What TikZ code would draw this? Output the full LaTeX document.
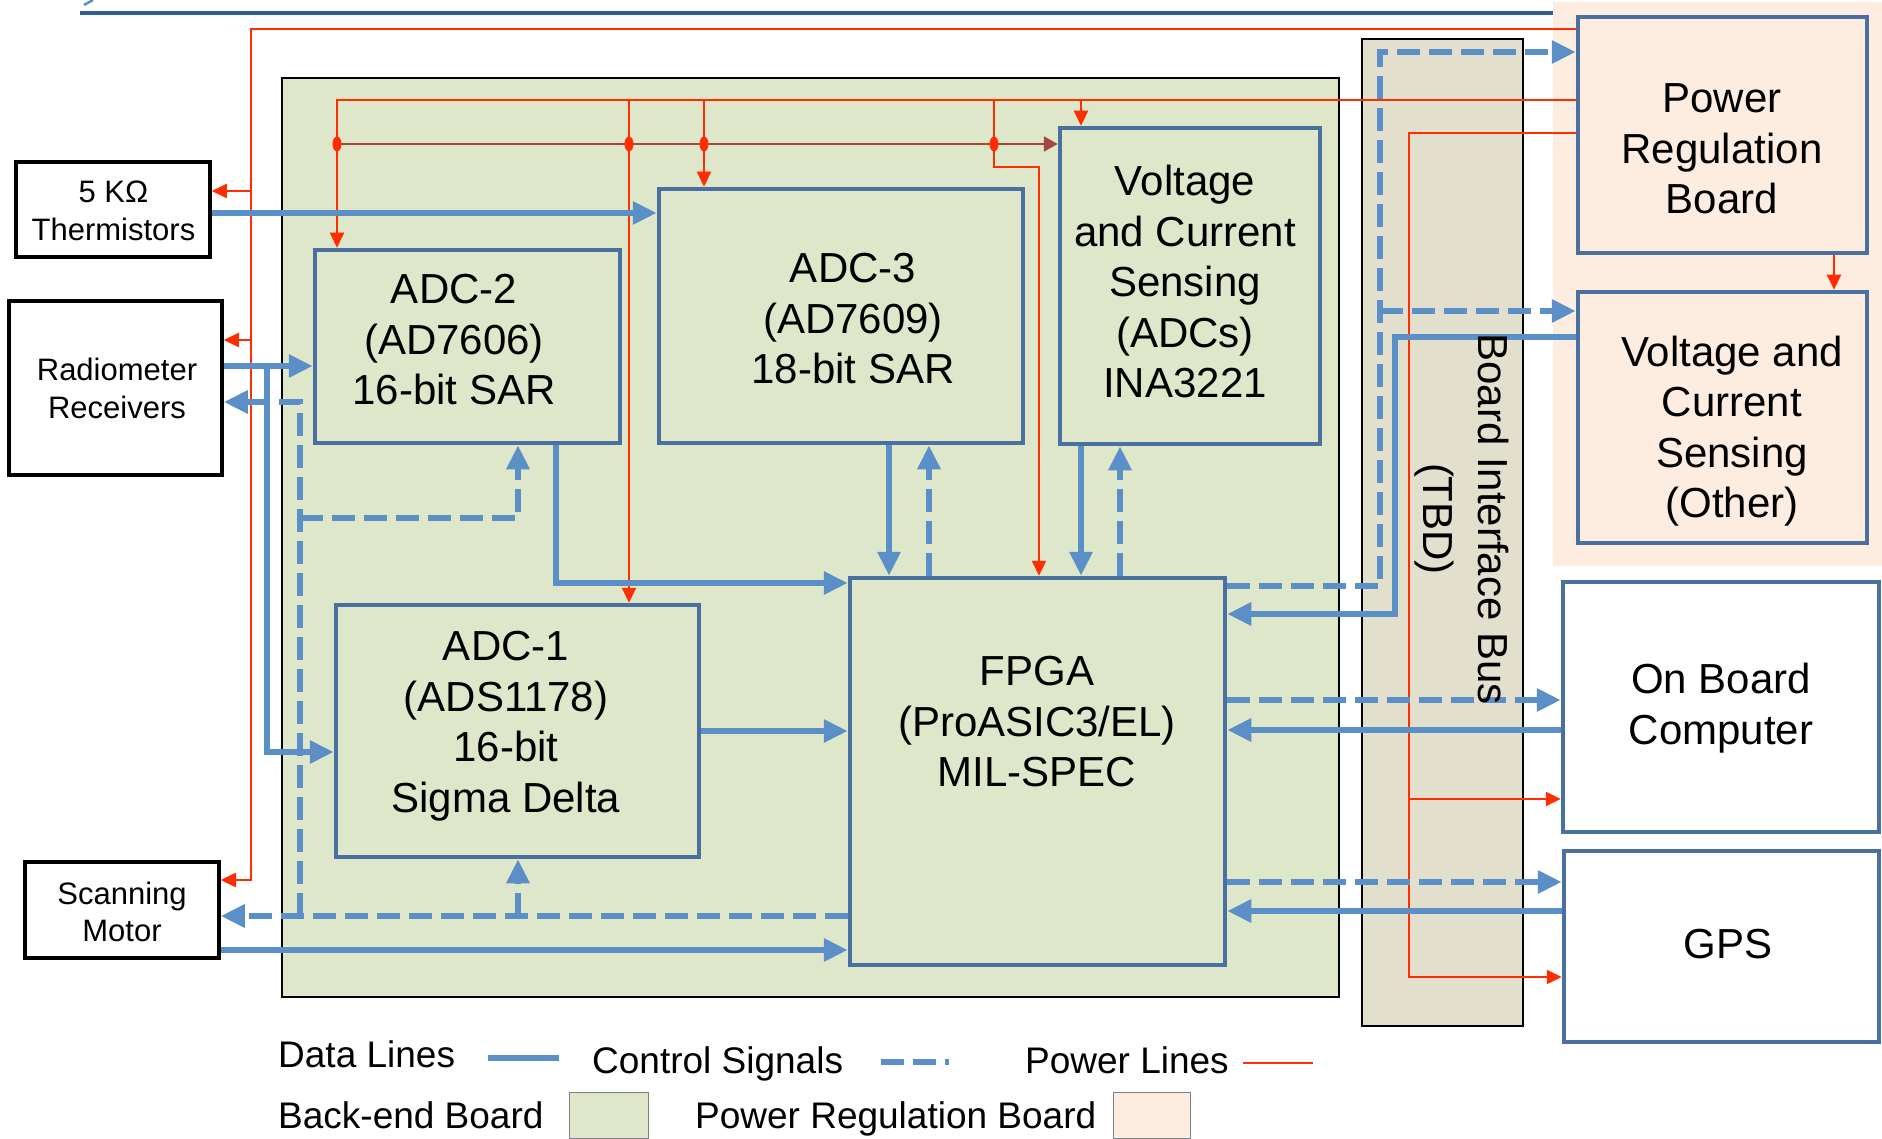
\documentclass[tikz,border=0pt]{standalone}
\usepackage{fontspec}
\setmainfont{Liberation Sans}
\usetikzlibrary{arrows.meta,shapes.geometric}
\definecolor{datab}{HTML}{5B8FC8}
\definecolor{boxb}{HTML}{4A70A0}
\definecolor{greenf}{HTML}{DEE7C9}
\definecolor{busf}{HTML}{E2DFCC}
\definecolor{peachf}{HTML}{FDECE0}
\definecolor{pwr}{HTML}{FF2D00}
\definecolor{brownl}{HTML}{A5463F}
\definecolor{topb}{HTML}{2F5E98}
\begin{document}
\begin{tikzpicture}[x=1pt,y=-1pt,
  blkbox/.style={draw=boxb, line width=4.5pt, rectangle, inner sep=0pt},
  extbox/.style={draw=black, line width=3.5pt, fill=white, rectangle, inner sep=0pt},
  bigtxt/.style={font=\fontsize{42}{50.5}\selectfont, align=center, inner sep=0pt},
  smalltxt/.style={font=\fontsize{31}{37.5}\selectfont, align=center, inner sep=0pt},
  legtxt/.style={font=\fontsize{37}{40}\selectfont, anchor=base west, inner sep=0pt},
  dataln/.style={draw=datab, line width=6pt},
  ctrlln/.style={draw=datab, line width=6pt, dash pattern=on 23pt off 9pt},
  datarrow/.style={-{Triangle[length=24pt,width=22pt]}},
  pwrln/.style={draw=pwr, line width=2pt},
  parrow/.style={-{Triangle[length=15pt,width=14pt]}},
  pdot/.style={ellipse, fill=pwr, minimum width=9pt, minimum height=15pt, inner sep=0pt},
]
\fill[white] (0,0) rectangle (1882,1139);
\useasboundingbox (0,0) rectangle (1882,1139);

% slide remnants at top
\draw[topb, line width=4pt] (80,12.7) -- (1553,12.7);
\draw[datab, line width=2.5pt] (84,5) -- (93,0);

% board areas
\node[fill=peachf, minimum width=329pt, minimum height=564pt, inner sep=0pt] (prbarea) at (1717.5,284) {};
\node[draw=black, line width=2pt, fill=greenf, minimum width=1057pt, minimum height=919pt, inner sep=0pt] (backend) at (810.5,537.5) {};
\node[draw=black, line width=2.5pt, fill=busf, minimum width=161pt, minimum height=987pt, inner sep=0pt] (bus) at (1442.5,532.5) {};

% boxes
\node[extbox, minimum width=194pt, minimum height=95pt] (therm) at (113,209.5) {};
\node[extbox, minimum width=213pt, minimum height=174pt] (radio) at (115.5,388) {};
\node[extbox, minimum width=194pt, minimum height=96pt] (scan) at (122,910) {};
\node[blkbox, fill=greenf, minimum width=305pt, minimum height=193pt] (adc2) at (467.5,346.5) {};
\node[blkbox, fill=greenf, minimum width=364pt, minimum height=254pt] (adc3) at (841,316) {};
\node[blkbox, fill=greenf, minimum width=260pt, minimum height=316pt] (vsadc) at (1190,286) {};
\node[blkbox, fill=greenf, minimum width=363pt, minimum height=252pt] (adc1) at (517.5,731) {};
\node[blkbox, fill=greenf, minimum width=375pt, minimum height=387pt] (fpga) at (1037.5,771.5) {};
\node[blkbox, fill=peachf, minimum width=289pt, minimum height=236pt] (prb) at (1722.5,135) {};
\node[blkbox, fill=peachf, minimum width=289pt, minimum height=251pt] (vco) at (1722.5,417.5) {};
\node[blkbox, fill=white, minimum width=316pt, minimum height=250pt] (obc) at (1721,707) {};
\node[blkbox, fill=white, minimum width=315pt, minimum height=191pt] (gps) at (1721.5,946.5) {};

% junction coordinates
\coordinate (jt) at (251,191);
\coordinate (jr) at (251,340);
\coordinate (ja) at (629,100);
\coordinate (jb) at (704,100);
\coordinate (jc) at (1081,100);
\coordinate (jd) at (994,100);
\coordinate (jbr) at (337,144);
\coordinate (jobc) at (1409,799);
\coordinate (jd1) at (267,363);
\coordinate (jc1) at (518,916);
\coordinate (jc2) at (300,916);
\coordinate (jc3) at (300,518);
\coordinate (jc4) at (1380,311);

% power lines
\draw[pwrln,parrow] (prb.west |- 0,29) -| (251,880) -- (scan.east |- 0,880);
\draw[pwrln,parrow] (jt) -- (therm.east |- 0,191);
\draw[pwrln,parrow] (jr) -- (radio.east |- 0,340);
\draw[pwrln,parrow] (prb.west |- 0,100) -| (337,0 |- adc2.north);
\draw[pwrln,parrow] (ja) -- (629,0 |- adc1.north);
\draw[pwrln,parrow] (jb) -- (704,0 |- adc3.north);
\draw[pwrln,parrow] (jc) -- (1081,0 |- vsadc.north);
\draw[pwrln,parrow] (jd) -- (994,167) -- (1039,167) -- (1039,0 |- fpga.north);
\draw[pwrln,parrow] (prb.west |- 0,133) -| (1409,977) -- (gps.west |- 0,977);
\draw[pwrln,parrow] (jobc) -- (obc.west |- 0,799);
\draw[pwrln,parrow] (1834,0 |- prb.south) -- (1834,0 |- vco.north);
\draw[brownl, line width=2.5pt, -{Triangle[length=14pt,width=15pt]}] (jbr) -- (vsadc.west |- 0,144);
\node[pdot] (dot1) at (337,144) {};
\node[pdot] (dot2) at (629,144) {};
\node[pdot] (dot3) at (704,144) {};
\node[pdot] (dot4) at (994,144) {};

% data lines
\draw[dataln,datarrow] (therm.east |- 0,213) -- (adc3.west |- 0,213);
\draw[dataln,datarrow] (radio.east |- 0,366) -- (adc2.west |- 0,366);
\draw[dataln,datarrow] (jd1) -- (267,752) -- (adc1.west |- 0,752);
\draw[dataln,datarrow] (556,0 |- adc2.south) -- (556,583) -- (fpga.west |- 0,583);
\draw[dataln,datarrow] (adc1.east |- 0,731) -- (fpga.west |- 0,731);
\draw[dataln,datarrow] (scan.east |- 0,950) -- (fpga.west |- 0,950);
\draw[dataln,datarrow] (889,0 |- adc3.south) -- (889,0 |- fpga.north);
\draw[dataln,datarrow] (1081,0 |- vsadc.south) -- (1081,0 |- fpga.north);
\draw[dataln,datarrow] (vco.west |- 0,337.5) -- (1395,337.5) -- (1395,614) -- (fpga.east |- 0,614);
\draw[dataln,datarrow] (obc.west |- 0,730) -- (fpga.east |- 0,730);
\draw[dataln,datarrow] (gps.west |- 0,911) -- (fpga.east |- 0,911);

% control signals
\draw[ctrlln,datarrow] (fpga.west |- 0,916) -- (scan.east |- 0,916);
\draw[ctrlln,datarrow] (jc1) -- (518,0 |- adc1.south);
\draw[ctrlln,datarrow] (jc2) -- (300,402) -- (radio.east |- 0,402);
\draw[ctrlln,datarrow] (jc3) -- (518,518) -- (518,0 |- adc2.south);
\draw[ctrlln,datarrow] (929,0 |- fpga.north) -- (929,0 |- adc3.south);
\draw[ctrlln,datarrow] (1120,0 |- fpga.north) -- (1120,0 |- vsadc.south);
\draw[ctrlln,datarrow] (fpga.east |- 0,586) -- (1380,586) -- (1380,52) -- (prb.west |- 0,52);
\draw[ctrlln,datarrow] (jc4) -- (vco.west |- 0,311);
\draw[ctrlln,datarrow] (fpga.east |- 0,700) -- (obc.west |- 0,700);
\draw[ctrlln,datarrow] (fpga.east |- 0,882) -- (gps.west |- 0,882);

% texts
\node[smalltxt] (thermt) at (113.5,211) {5 KΩ\\Thermistors};
\node[smalltxt] (radiot) at (117,388.5) {Radiometer\\Receivers};
\node[smalltxt] (scant) at (122,912) {Scanning\\Motor};
\node[bigtxt] (adc2t) at (454,340) {ADC-2\\(AD7606)\\16-bit SAR};
\node[bigtxt] (adc3t) at (853,319) {ADC-3\\(AD7609)\\18-bit SAR};
\node[bigtxt] (vst) at (1185,281.5) {Voltage\\and Current\\Sensing\\(ADCs)\\INA3221};
\node[bigtxt] (adc1t) at (506,726) {ADC-1\\(ADS1178)\\16-bit\\Sigma Delta};
\node[bigtxt] (fpgat) at (1037,722) {FPGA\\(ProASIC3/EL)\\MIL-SPEC};
\node[bigtxt] (prbt) at (1722,149) {Power\\Regulation\\Board};
\node[bigtxt] (vcot) at (1732,431) {Voltage and\\Current\\Sensing\\(Other)};
\node[bigtxt] (obct) at (1721,708) {On Board\\Computer};
\node[bigtxt] (gpst) at (1728,944) {GPS};
\node[font=\fontsize{42}{55}\selectfont, align=center, inner sep=0pt, rotate=-90] (bust) at (1462,519) {Board Interface Bus\\(TBD)};

% legend
\node[legtxt] (lg1) at (278,1067) {Data Lines};
\draw[dataln] (488,1058) -- (559,1058);
\node[legtxt] (lg2) at (592,1073) {Control Signals};
\draw[ctrlln] (881,1062) -- (949,1062);
\node[legtxt] (lg3) at (1025,1073) {Power Lines};
\draw[pwrln] (1243,1063) -- (1313,1063);
\node[legtxt] (lg4) at (278,1128) {Back-end Board};
\node[draw=gray, line width=1pt, fill=greenf, minimum width=79pt, minimum height=46pt, inner sep=0pt] (sw1) at (608.5,1115) {};
\node[legtxt] (lg5) at (695,1128) {Power Regulation Board};
\node[draw=gray, line width=1pt, fill=peachf, minimum width=77pt, minimum height=46pt, inner sep=0pt] (sw2) at (1151.5,1115) {};
\end{tikzpicture}
\end{document}
